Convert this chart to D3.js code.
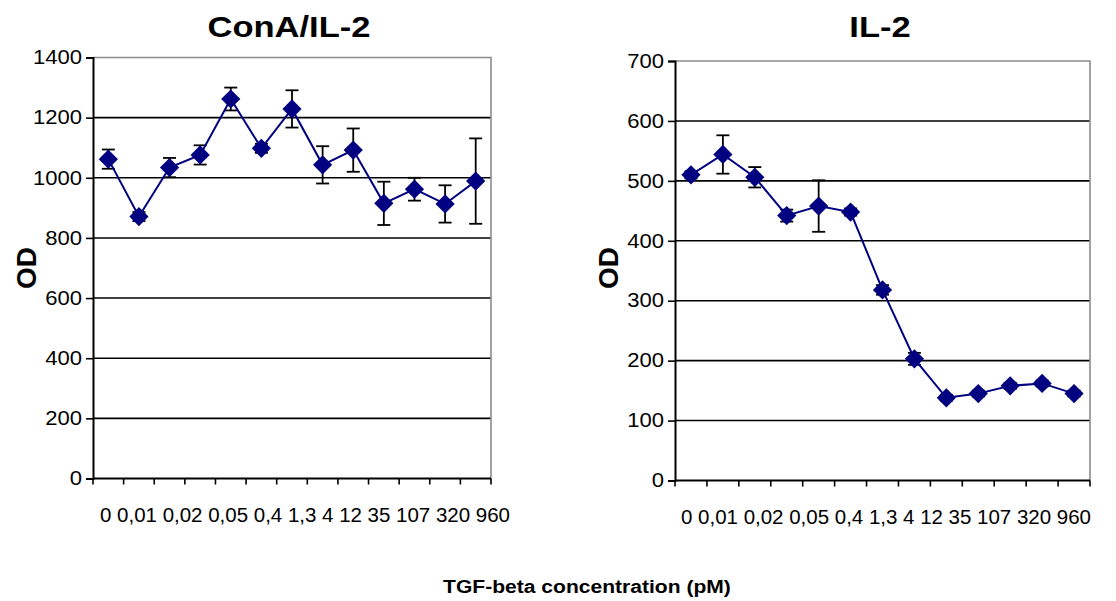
<!DOCTYPE html>
<html>
<head>
<meta charset="utf-8">
<script src="https://cdn.jsdelivr.net/npm/d3@7"></script>
<style>
  html, body { margin: 0; padding: 0; background: #fff; }
  svg { display: block; font-family: "Liberation Sans", Arial, sans-serif; }
</style>
</head>
<body>
<svg id="chart" width="1116" height="601"></svg>
<script>
// TGF-beta concentrations (pM), printed as one label row under each panel
const concentrationLabels = ["0", "0,01", "0,02", "0,05", "0,4", "1,3", "4", "12", "35", "107", "320", "960"];
// measurement positions along the x axis
const wells = [1, 2, 3, 4, 5, 6, 7, 8, 9, 10, 11, 12, 13];

// ConA/IL-2 stimulated cells: mean OD and error
const conaMean = [1062, 871, 1034, 1076, 1262, 1098, 1229, 1043, 1092, 915, 962, 913, 989];
const conaErr  = [32, 15, 32, 32, 38, 15, 62, 62, 72, 72, 38, 62, 142];

// IL-2 stimulated cells: mean OD and error
const il2Mean = [510, 544, 506, 442, 458, 448, 318, 203, 138, 145, 158, 162, 145];
const il2Err  = [6, 32, 17, 10, 43, 6, 8, 10, 5, 5, 5, 5, 5];

const yTicksCona = [0, 200, 400, 600, 800, 1000, 1200, 1400];
const yTicksIl2  = [0, 100, 200, 300, 400, 500, 600, 700];

const svg = d3.select("#chart");
const NAVY = "#000080";
const WIDEN = 1.15;   // labels are set slightly wider than the font's natural width

function widen(sel, factor) {
  sel.each(function () {
    const w = this.getComputedTextLength();
    d3.select(this).attr("textLength", w * factor).attr("lengthAdjust", "spacingAndGlyphs");
  });
}

function panel(cfg) {
  const g = svg.append("g");
  const x = d3.scaleBand().domain(wells).range([cfg.x0, cfg.x1]);
  const y = d3.scaleLinear().domain([0, cfg.yMax]).range([cfg.yBottom, cfg.yTop]);

  // horizontal gridlines
  g.append("g").selectAll("line")
    .data(cfg.yTicks.filter(t => t > 0 && t < cfg.yMax))
    .join("line")
    .attr("x1", cfg.x0).attr("x2", cfg.x1)
    .attr("y1", d => y(d)).attr("y2", d => y(d))
    .attr("stroke", "#000").attr("stroke-width", 1.6);

  // top and right frame in grey
  g.append("path")
    .attr("d", `M${cfg.x0},${y(cfg.yMax)}H${cfg.x1}V${y(0)}`)
    .attr("fill", "none").attr("stroke", "#8c8c8c").attr("stroke-width", 1.6);

  // y axis
  const yAxis = g.append("g")
    .attr("transform", `translate(${cfg.x0},0)`)
    .call(d3.axisLeft(y).tickValues(cfg.yTicks).tickSize(7).tickPadding(4).tickFormat(d3.format("d")));
  yAxis.select(".domain").attr("stroke", "#000").attr("stroke-width", 2);
  yAxis.selectAll(".tick line").attr("stroke", "#000").attr("stroke-width", 1.6);
  const yLabels = yAxis.selectAll(".tick text")
    .attr("fill", "#000").attr("font-size", 19.5)
    .attr("font-family", "Liberation Sans, Arial, sans-serif");
  widen(yLabels, 1.13);

  // x axis: tick marks at category boundaries
  const bounds = wells.map(w => x(w)).concat([cfg.x1]);
  const xAxis = g.append("g").attr("transform", `translate(0,${y(0)})`);
  xAxis.append("line")
    .attr("x1", cfg.x0).attr("x2", cfg.x1)
    .attr("stroke", "#000").attr("stroke-width", 2);
  xAxis.selectAll("line.tick")
    .data(bounds).join("line").attr("class", "tick")
    .attr("x1", d => d).attr("x2", d => d)
    .attr("y1", 0).attr("y2", 6)
    .attr("stroke", "#000").attr("stroke-width", 1.6);

  // concentration label row
  g.append("text")
    .attr("x", cfg.labelX).attr("y", y(0) + 43)
    .attr("text-anchor", "middle")
    .attr("font-size", 20)
    .attr("fill", "#000")
    .attr("textLength", 410).attr("lengthAdjust", "spacingAndGlyphs")
    .text(concentrationLabels.join(" "));

  // title
  const title = g.append("text")
    .attr("x", cfg.titleX).attr("y", 37)
    .attr("text-anchor", "middle")
    .attr("font-size", 30).attr("font-weight", "bold")
    .text(cfg.title);
  widen(title, WIDEN);

  // y axis title
  g.append("text")
    .attr("transform", `translate(${cfg.x0 - 57},${cfg.odY}) rotate(-90)`)
    .attr("text-anchor", "middle")
    .attr("font-size", 28).attr("font-weight", "bold")
    .text("OD");

  const cx = d => x(d) + x.bandwidth() / 2;

  // error bars
  const eb = g.append("g").attr("stroke", "#000").attr("stroke-width", 1.8);
  wells.forEach((w, i) => {
    const m = cfg.mean[i], e = cfg.err[i];
    const hi = y(m + e), lo = y(m - e), px = cx(w);
    eb.append("line").attr("x1", px).attr("x2", px).attr("y1", hi).attr("y2", lo);
    eb.append("line").attr("x1", px - 6.5).attr("x2", px + 6.5).attr("y1", hi).attr("y2", hi);
    eb.append("line").attr("x1", px - 6.5).attr("x2", px + 6.5).attr("y1", lo).attr("y2", lo);
  });

  // connecting line
  g.append("path")
    .datum(wells.map((w, i) => [cx(w), y(cfg.mean[i])]))
    .attr("d", d3.line())
    .attr("fill", "none").attr("stroke", NAVY).attr("stroke-width", 2);

  // diamond markers
  g.append("g").selectAll("path")
    .data(wells.map((w, i) => [cx(w), y(cfg.mean[i])]))
    .join("path")
    .attr("d", d3.symbol(d3.symbolSquare, 185))
    .attr("transform", d => `translate(${d[0]},${d[1]}) rotate(45)`)
    .attr("fill", NAVY);
}

panel({
  title: "ConA/IL-2", titleX: 289,
  x0: 93, x1: 491, yTop: 57.5, yBottom: 478.5, yMax: 1400,
  yTicks: yTicksCona, mean: conaMean, err: conaErr,
  labelX: 305, odY: 268
});

panel({
  title: "IL-2", titleX: 880,
  x0: 675, x1: 1090, yTop: 61, yBottom: 480.5, yMax: 700,
  yTicks: yTicksIl2, mean: il2Mean, err: il2Err,
  labelX: 886, odY: 268
});

const xTitle = svg.append("text")
  .attr("x", 587).attr("y", 593)
  .attr("text-anchor", "middle")
  .attr("font-size", 18).attr("font-weight", "bold")
  .text("TGF-beta concentration (pM)");
widen(xTitle, 1.17);
</script>
</body>
</html>
